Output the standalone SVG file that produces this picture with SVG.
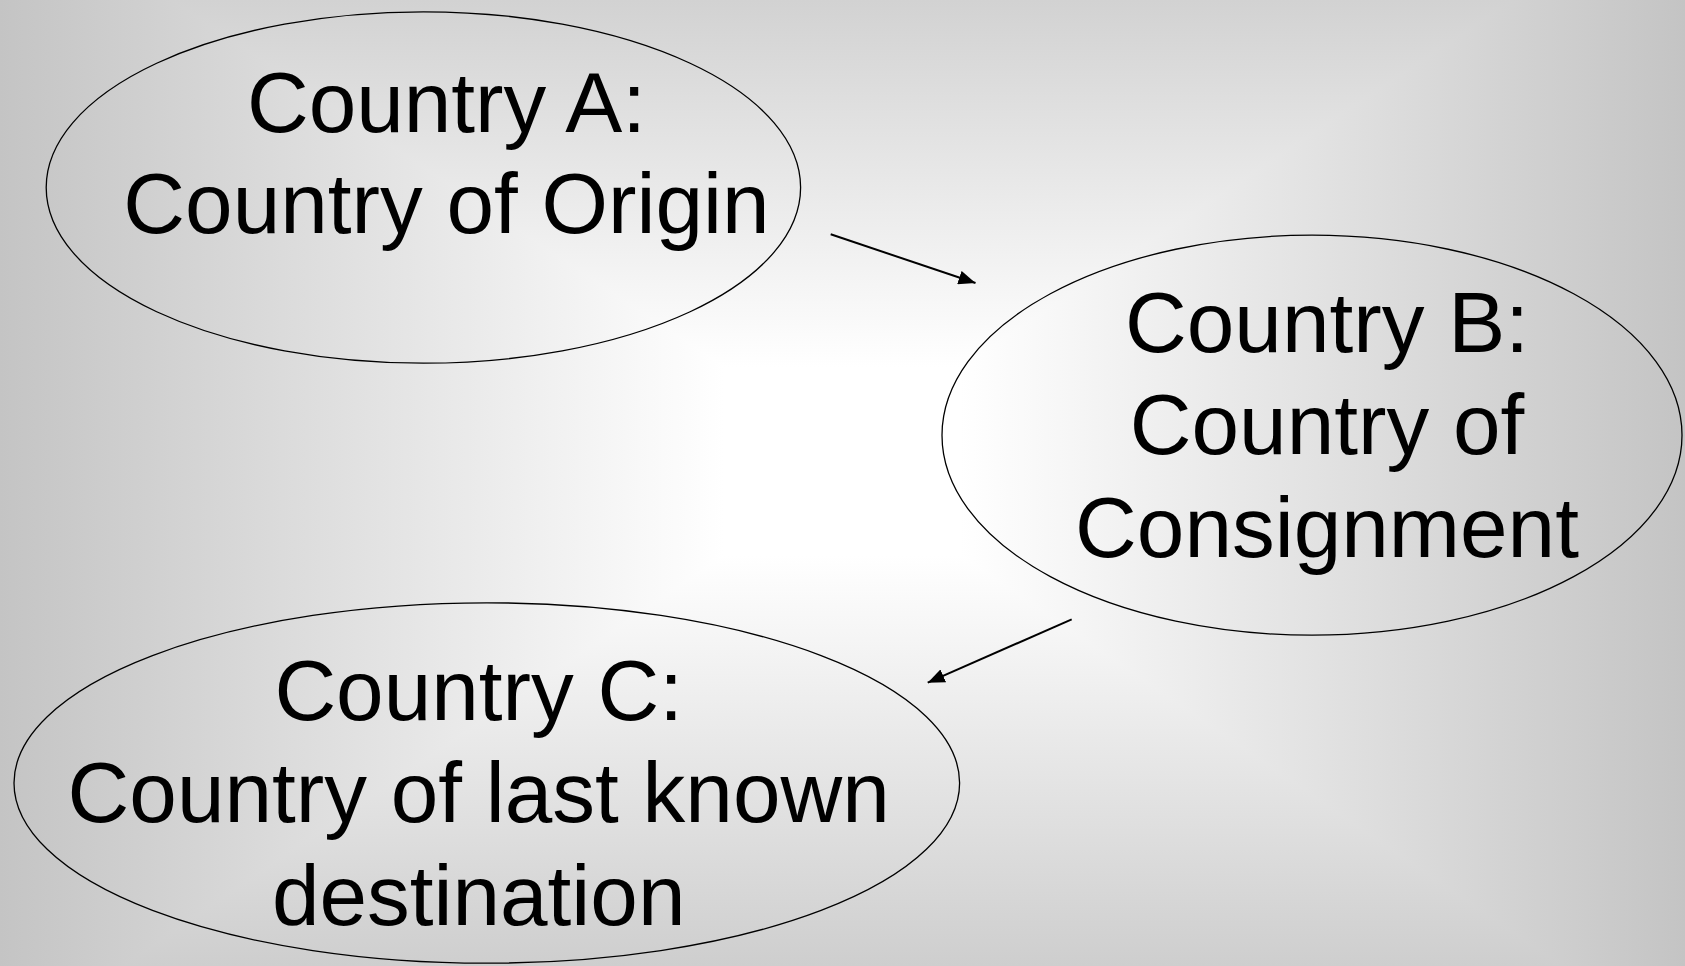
<svg xmlns="http://www.w3.org/2000/svg" width="1685" height="966" viewBox="0 0 1685 966">
  <style>
    .node ellipse { fill: none; stroke: #000000; stroke-width: 1.3; }
    .node text { font-family: "Liberation Sans", Arial, sans-serif; font-size: 85.5px; fill: #000000; text-anchor: middle; }
    .conn line { stroke: #000000; stroke-width: 2; marker-end: url(#arrow); }
  </style>
  <defs>
    <linearGradient id="bgh" x1="0" y1="0" x2="1" y2="0">
      <stop offset="0" stop-color="#c4c4c4"/>
      <stop offset="0.43" stop-color="#ffffff"/>
      <stop offset="0.57" stop-color="#ffffff"/>
      <stop offset="1" stop-color="#c4c4c4"/>
    </linearGradient>
    <linearGradient id="bgv" x1="0" y1="0" x2="0" y2="1">
      <stop offset="0" stop-color="#d2d2d2"/>
      <stop offset="0.38" stop-color="#ffffff"/>
      <stop offset="0.575" stop-color="#ffffff"/>
      <stop offset="1" stop-color="#cecece"/>
    </linearGradient>
    <marker id="arrow" markerUnits="userSpaceOnUse" markerWidth="18" markerHeight="14" refX="17" refY="7" orient="auto">
      <path d="M0,0 L17,7 L0,14 Z" fill="#000000"/>
    </marker>
  </defs>
  <g id="background" style="isolation:isolate">
    <rect x="0" y="0" width="1685" height="966" fill="url(#bgh)"/>
    <rect x="0" y="0" width="1685" height="966" fill="url(#bgv)" style="mix-blend-mode:darken"/>
  </g>

  <g id="connectors" class="conn">
    <line x1="830.7" y1="234.3" x2="975.5" y2="283"/>
    <line x1="1071.7" y1="619.3" x2="927.7" y2="682.7"/>
  </g>

  <g id="node-a" class="node">
    <ellipse cx="423.4" cy="187.5" rx="377.2" ry="175.7"/>
    <text x="446.5" y="131.7">Country A:</text>
    <text x="446.5" y="233.3">Country of Origin</text>
  </g>

  <g id="node-b" class="node">
    <ellipse cx="1312" cy="435.2" rx="370" ry="200"/>
    <text x="1327" y="351.7">Country B:</text>
    <text x="1327" y="454.3">Country of</text>
    <text x="1327" y="556.7">Consignment</text>
  </g>

  <g id="node-c" class="node">
    <ellipse cx="486.8" cy="783" rx="472.8" ry="180.2"/>
    <text x="478.7" y="720">Country C:</text>
    <text x="478.7" y="821.7">Country of last known</text>
    <text x="478.7" y="925">destination</text>
  </g>
</svg>
